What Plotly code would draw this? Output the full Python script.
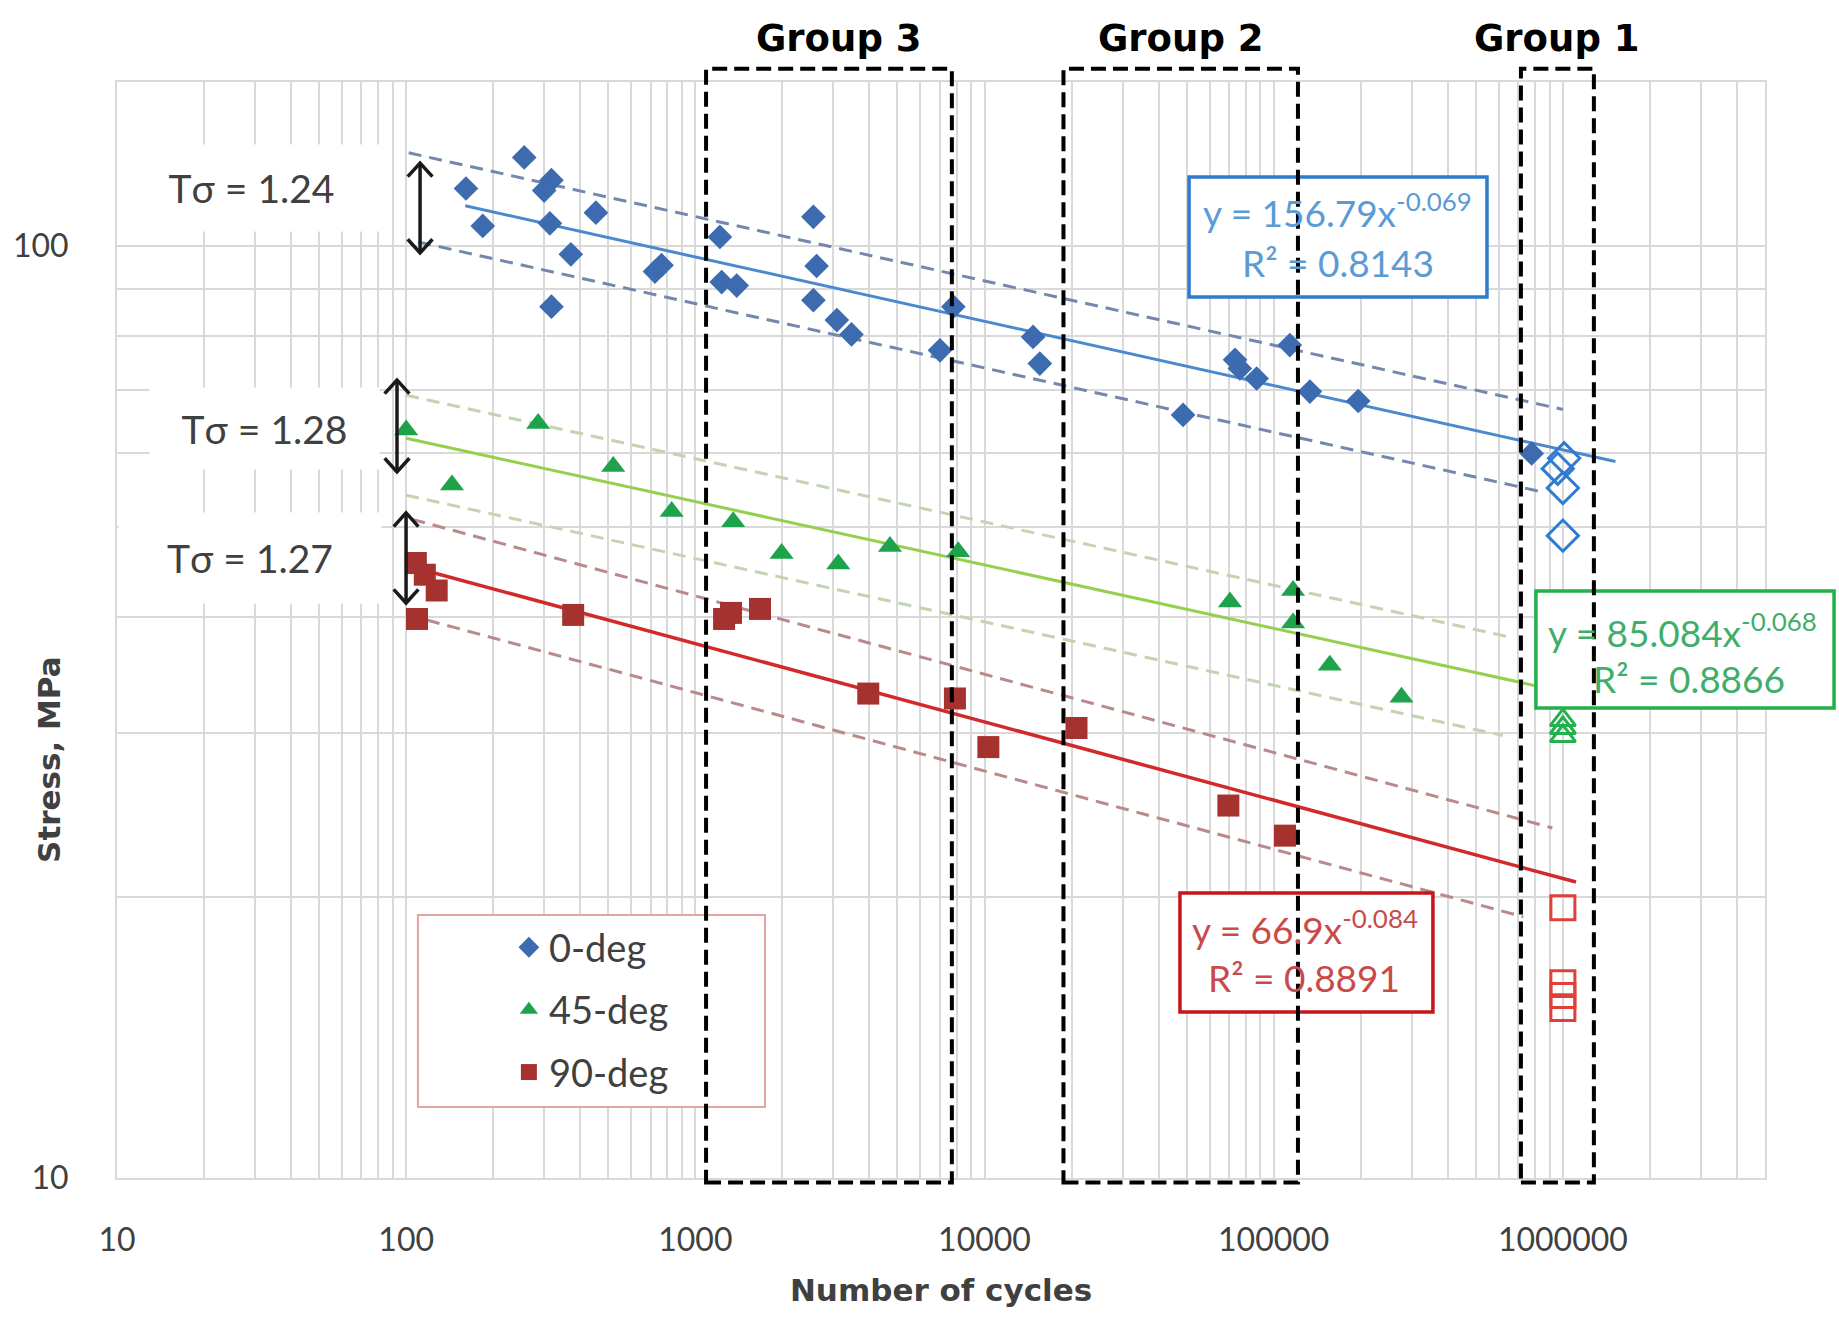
import numpy as np
import plotly.graph_objects as go

# ---------------- fatigue test results: cycles to failure vs stress (MPa) ----------------
cycles_0deg = [161, 184, 256, 318, 300, 314, 453, 371, 318, 764, 725, 1216, 1233, 1390,
               2560, 2626, 2560, 3085, 3467, 7800, 7015, 14720, 15530, 48600, 73500,
               76400, 87300, 113700, 133400, 196000, 780000]
stress_0deg = [115.3, 105.1, 124.5, 117.7, 114.7, 105.8, 108.6, 98.0, 86.1, 95.4, 93.9,
               102.3, 91.5, 90.7, 107.5, 95.2, 87.5, 83.3, 80.4, 86.1, 77.3, 79.9, 74.8,
               65.9, 75.5, 73.9, 72.1, 78.3, 69.8, 68.2, 59.9]
runout_cycles_0deg = [1010000, 960000, 1000000, 1000000]
runout_stress_0deg = [59.2, 57.7, 55.0, 48.9]

cycles_45deg = [100, 286, 144, 520, 828, 1352, 1988, 3120, 4710, 8110, 70600, 116700,
                116700, 156300, 276600]
stress_45deg = [63.5, 64.5, 55.4, 58.0, 51.9, 50.6, 46.8, 45.6, 47.6, 47.0, 41.5, 42.7,
                39.4, 35.5, 32.8]
runout_cycles_45deg = [1000000, 1000000, 1000000]
runout_stress_45deg = [31.0, 30.4, 29.8]

cycles_90deg = [108, 116, 127.5, 109, 378, 1257, 1328, 1673, 3963, 7900, 10310, 20800,
                69700, 109400]
stress_90deg = [45.7, 44.4, 42.7, 39.8, 40.2, 39.8, 40.4, 40.8, 33.1, 32.7, 29.0, 30.4,
                25.1, 23.3]
runout_cycles_90deg = [1000000, 1000000, 1000000, 1000000]
runout_stress_90deg = [19.5, 16.2, 15.7, 15.2]

series_names = ["0-deg", "45-deg", "90-deg"]

# power-law fits  S = A * N^b
fit_A = [156.79, 85.084, 66.9]
fit_b = [-0.069, -0.068, -0.084]
fit_r2 = [0.8143, 0.8866, 0.8891]
fit_span = [(160, 1.52e6), (100, 1.0e6), (108, 1.11e6)]

# scatter bands around each fit; upper factor * lower factor = T_sigma
t_sigma = [1.24, 1.28, 1.27]
band_up = [1.105, 1.112, 1.125]
band_span_up = [(102, 1.0e6), (100, 6.7e5), (105, 9.2e5)]
band_span_lo = [(110, 8.7e5), (100, 6.2e5), (118, 7.3e5)]

# cycle ranges of the specimen groups
group_names = ["Group 3", "Group 2", "Group 1"]
group_lo = [1089, 18750, 716000]
group_hi = [7710, 121300, 1280000]

x_tick_labels = ["10", "100", "1000", "10000", "100000", "1000000"]
y_tick_labels = ["10", "100"]

# ---------------- styling ----------------
FONT = "Lato"
BOLD = "DejaVu Sans"
TXT = "#404040"
GRID = "#d9d9d9"
marker_colors = ["#3d6bb0", "#1ea34c", "#a5322e"]
marker_symbols = ["diamond", "triangle-up", "square"]
marker_sizes = [19, 21, 22]
open_symbols = ["diamond-open", "triangle-up-open", "square-open"]
open_colors = ["#2f7bd0", "#22b14c", "#e0403a"]
open_sizes = [24, 22, 24]
trend_colors = ["#4c89cc", "#96cf4e", "#d22a2a"]
trend_widths = [3, 3, 3.5]
band_colors = ["#7388aa", "#c3d4b0", "#b98a8a"]
eq_box_colors = ["#2e7bcc", "#22b04b", "#c4161c"]
eq_text_colors = ["#5b9bd5", "#3fae6a", "#c94a4a"]

fails = [(cycles_0deg, stress_0deg), (cycles_45deg, stress_45deg), (cycles_90deg, stress_90deg)]
runouts = [(runout_cycles_0deg, runout_stress_0deg),
           (runout_cycles_45deg, runout_stress_45deg),
           (runout_cycles_90deg, runout_stress_90deg)]

fig = go.Figure()


def power_curve(A, b, span, factor=1.0):
    n = np.geomspace(span[0], span[1], 20)
    return n, A * n ** b * factor


# dashed scatter bands
for i in range(3):
    k_up = band_up[i]
    k_lo = t_sigma[i] / band_up[i]
    for span, k in ((band_span_up[i], k_up), (band_span_lo[i], 1.0 / k_lo)):
        n, s = power_curve(fit_A[i], fit_b[i], span, k)
        fig.add_trace(go.Scatter(x=n, y=s, mode="lines", showlegend=False, hoverinfo="skip",
                                 line=dict(color=band_colors[i], width=3, dash="13px,8px")))

# fitted power-law lines
for i in range(3):
    n, s = power_curve(fit_A[i], fit_b[i], fit_span[i])
    fig.add_trace(go.Scatter(x=n, y=s, mode="lines", showlegend=False, hoverinfo="skip",
                             line=dict(color=trend_colors[i], width=trend_widths[i])))

# run-outs (open markers)
for i in range(3):
    fig.add_trace(go.Scatter(x=runouts[i][0], y=runouts[i][1], mode="markers", showlegend=False,
                             marker=dict(symbol=open_symbols[i], size=open_sizes[i],
                                         color=open_colors[i], line=dict(width=3, color=open_colors[i]))))

# failed specimens
for i in range(3):
    fig.add_trace(go.Scatter(x=fails[i][0], y=fails[i][1], mode="markers", name=series_names[i],
                             legendgroup=series_names[i],
                             marker=dict(symbol=marker_symbols[i], size=marker_sizes[i],
                                         color=marker_colors[i], line=dict(width=0))))

# ---------------- axes ----------------
x_major = [10 ** e for e in range(1, 7)]
x_minor = [m * 10 ** e for e in range(1, 7) for m in range(2, 10) if m * 10 ** e <= 5e6]
y_major = [10, 100]
y_minor = [m * 10 for m in range(2, 10)]

grid_minor = dict(showgrid=True, gridcolor=GRID, gridwidth=2, ticks="")
axis_common = dict(type="log", showgrid=True, gridcolor=GRID, gridwidth=2, zeroline=False,
                   showline=True, linecolor=GRID, linewidth=2, mirror=True, ticks="",
                   tickfont=dict(family=FONT, size=32, color=TXT))
fig.update_xaxes(range=[1, np.log10(5e6)], tickmode="array", tickvals=x_major, ticktext=x_tick_labels,
                 minor=dict(tickmode="array", tickvals=x_minor, **grid_minor),
                 ticklabelstandoff=33,
                 title=dict(text="<b>Number of cycles</b>", standoff=22,
                            font=dict(family=BOLD, size=31, color=TXT)),
                 **axis_common)
fig.update_yaxes(range=[1, np.log10(150)], tickmode="array", tickvals=y_major, ticktext=y_tick_labels,
                 minor=dict(tickmode="array", tickvals=y_minor, **grid_minor),
                 ticklabelstandoff=40, **axis_common)

# ---------------- decorations ----------------
shapes = []
# legend frame
shapes.append(dict(type="rect", xref="paper", yref="paper", x0=0.1826, x1=0.3932, y0=0.0648, y1=0.2400,
                   fillcolor="white", line=dict(color="#e6a3a3", width=2), layer="above"))
# equation frames
eq_frames = [(0.6505, 0.8313, 0.8038, 0.9133), (0.8610, 1.0419, 0.4288, 0.5356),
             (0.6450, 0.7985, 0.1515, 0.2600)]
for i, (x0, x1, y0, y1) in enumerate(eq_frames):
    shapes.append(dict(type="rect", xref="paper", yref="paper", x0=x0, x1=x1, y0=y0, y1=y1,
                       fillcolor="white", line=dict(color=eq_box_colors[i], width=3.5), layer="above"))
# specimen group frames
for lo, hi in zip(group_lo, group_hi):
    shapes.append(dict(type="rect", xref="x", yref="paper", x0=lo, x1=hi, y0=-0.004, y1=1.012,
                       line=dict(color="black", width=4, dash="15px,7px"), layer="above"))
# double-headed span arrows marking each T_sigma band (paper coordinates)
arrows = [(0.1839, 0.9261, 0.8440), (0.1699, 0.7281, 0.6442), (0.1754, 0.6068, 0.5246)]
hw, hh = 0.0075, 0.0125
for ax_, ytop, ybot in arrows:
    line = dict(color="#1a1a1a", width=3.5)
    shapes.append(dict(type="line", xref="paper", yref="paper", x0=ax_, x1=ax_, y0=ybot, y1=ytop,
                       line=line, layer="above"))
    shapes.append(dict(type="path", xref="paper", yref="paper", layer="above", line=line,
                       path="M %f,%f L %f,%f L %f,%f" % (ax_ - hw, ytop - hh, ax_, ytop, ax_ + hw, ytop - hh)))
    shapes.append(dict(type="path", xref="paper", yref="paper", layer="above", line=line,
                       path="M %f,%f L %f,%f L %f,%f" % (ax_ - hw, ybot + hh, ax_, ybot, ax_ + hw, ybot + hh)))
fig.update_layout(shapes=shapes)

ann = []
# group titles
group_shift = [10, 0, 0]
for name, lo, hi, sh in zip(group_names, group_lo, group_hi, group_shift):
    ann.append(dict(xref="x", yref="paper", x=(np.log10(lo) + np.log10(hi)) / 2, y=1.040,
                    xanchor="center", yanchor="middle", xshift=sh,
                    text="<b>%s</b>" % name, showarrow=False,
                    font=dict(family=BOLD, size=37, color="black")))
# fit equations
eq_pos = [((0.7403, 0.8830), (0.7409, 0.8350)),
          ((0.9502, 0.5000), (0.9539, 0.4562)),
          ((0.7209, 0.2290), (0.7203, 0.1825))]
for i in range(3):
    (ex, ey), (rx, ry) = eq_pos[i]
    f = dict(family=FONT, size=37, color=eq_text_colors[i])
    ann.append(dict(xref="paper", yref="paper", x=ex, y=ey, showarrow=False, font=f,
                    xanchor="center", yanchor="middle",
                    text="y = %sx<sup>%s</sup>" % (fit_A[i], fit_b[i])))
    ann.append(dict(xref="paper", yref="paper", x=rx, y=ry, showarrow=False, font=f,
                    xanchor="center", yanchor="middle",
                    text="R² = %s" % fit_r2[i]))
# scatter-band labels with white backing
ts_pos = [(0.0819, 0.9036, 265, 86), (0.0898, 0.6834, 229, 81), (0.0807, 0.5657, 262, 90)]
for i, (px, py, w, h) in enumerate(ts_pos):
    ann.append(dict(xref="paper", yref="paper", x=px, y=py, showarrow=False,
                    xanchor="center", yanchor="middle",
                    text="Tσ = %.2f" % t_sigma[i], bgcolor="white", width=w, height=h,
                    borderpad=0, font=dict(family=FONT, size=39, color=TXT)))
# y-axis title
ann.append(dict(xref="paper", yref="paper", x=-0.0413, y=0.3823, showarrow=False, textangle=-90,
                xanchor="center", yanchor="middle",
                text="<b>Stress, MPa</b>", font=dict(family=BOLD, size=31, color=TXT)))

fig.update_layout(
    annotations=ann,
    width=1839, height=1323,
    margin=dict(l=117, r=74, t=82, b=145),
    paper_bgcolor="white", plot_bgcolor="white",
    showlegend=True,
    legend=dict(x=0.2378, y=0.2390, xanchor="left", yanchor="top", bgcolor="rgba(0,0,0,0)",
                borderwidth=0, tracegroupgap=10, font=dict(family=FONT, size=38, color=TXT)),
)

fig.write_html("out.html")
